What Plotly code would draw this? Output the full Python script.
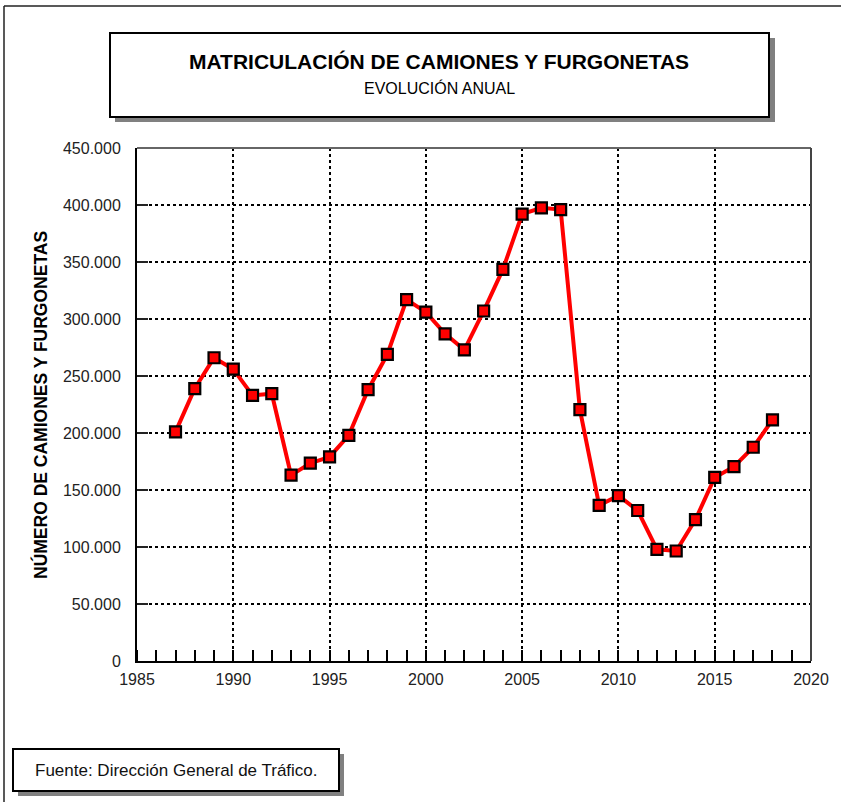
import plotly.graph_objects as go

years = list(range(1987, 2019))
matriculaciones = [201000, 239000, 266000, 256000, 233000, 234500, 163000, 173500,
                   179000, 198000, 238000, 269000, 317000, 306000, 287000, 273000,
                   307000, 343500, 392000, 397500, 396000, 220500, 136500, 145000,
                   132000, 98000, 96500, 124000, 161000, 170500, 187500, 211500]

y_ticks = [0, 50000, 100000, 150000, 200000, 250000, 300000, 350000, 400000, 450000]
x_ticks = [1985, 1990, 1995, 2000, 2005, 2010, 2015, 2020]

title_text = "MATRICULACIÓN DE CAMIONES Y FURGONETAS"
subtitle_text = "EVOLUCIÓN ANUAL"
ytitle_text = "NÚMERO DE CAMIONES Y FURGONETAS"
source_text = "Fuente: Dirección General de Tráfico."

W, H = 841, 802
L, R, T, B = 137, 811, 148, 661
FONT = "Arial, Liberation Sans, sans-serif"

def px(x):
    return (x - L) / (R - L)

def py(y):
    return (B - y) / (B - T)

fig = go.Figure()

fig.add_trace(go.Scatter(
    x=years, y=matriculaciones, mode="lines+markers",
    line=dict(color="#ff0000", width=4),
    marker=dict(symbol="square", size=11, color="#ff0000",
                line=dict(color="#000000", width=2.2)),
    hoverinfo="x+y", showlegend=False, cliponaxis=False,
))

shapes = []
# outer frame (left + top)
shapes.append(dict(type="line", xref="paper", yref="paper", x0=px(4), x1=px(845), y0=py(6), y1=py(6),
                   line=dict(color="#222", width=1.5)))
shapes.append(dict(type="line", xref="paper", yref="paper", x0=px(4), x1=px(4), y0=py(6), y1=py(806),
                   line=dict(color="#222", width=1.5)))
# plot frame top/right
shapes.append(dict(type="line", xref="paper", yref="paper", x0=0, x1=1, y0=1, y1=1,
                   line=dict(color="#666", width=2)))
shapes.append(dict(type="line", xref="paper", yref="paper", x0=1, x1=1, y0=0, y1=1,
                   line=dict(color="#444", width=2)))
# title box shadow + box
shapes.append(dict(type="rect", xref="paper", yref="paper", x0=px(115), x1=px(775), y0=py(38), y1=py(122),
                   fillcolor="#808080", line=dict(width=0), layer="below"))
shapes.append(dict(type="rect", xref="paper", yref="paper", x0=px(110), x1=px(769), y0=py(33), y1=py(117),
                   fillcolor="#ffffff", line=dict(color="#000", width=2), layer="below"))
# footer box shadow + box
shapes.append(dict(type="rect", xref="paper", yref="paper", x0=px(18), x1=px(344), y0=py(754), y1=py(796),
                   fillcolor="#808080", line=dict(width=0), layer="below"))
shapes.append(dict(type="rect", xref="paper", yref="paper", x0=px(13), x1=px(339), y0=py(749), y1=py(791),
                   fillcolor="#ffffff", line=dict(color="#000", width=2), layer="below"))

annotations = [
    dict(text=f"<b>{title_text}</b>", xref="paper", yref="paper", x=px(439), y=py(62),
         showarrow=False, font=dict(family=FONT, size=21, color="#000"), xanchor="center", yanchor="middle"),
    dict(text=subtitle_text, xref="paper", yref="paper", x=px(439), y=py(88),
         showarrow=False, font=dict(family=FONT, size=16, color="#000"), xanchor="center", yanchor="middle"),
    dict(text=f"<b>{ytitle_text}</b>", xref="paper", yref="paper", x=px(40), y=py(405),
         showarrow=False, textangle=-90, font=dict(family=FONT, size=17.5, color="#000"),
         xanchor="center", yanchor="middle"),
    dict(text=source_text, xref="paper", yref="paper", x=px(176), y=py(771),
         showarrow=False, font=dict(family=FONT, size=17, color="#111"), xanchor="center", yanchor="middle"),
]

fig.update_layout(
    width=W, height=H,
    margin=dict(l=L, r=W - R, t=T, b=H - B),
    paper_bgcolor="#ffffff", plot_bgcolor="#ffffff",
    separators=",.",
    shapes=shapes, annotations=annotations,
    font=dict(family=FONT, size=16, color="#222"),
    showlegend=False,
)

fig.update_xaxes(
    range=[1985, 2020], tickvals=x_ticks, ticktext=[str(v) for v in x_ticks],
    showgrid=True, gridcolor="#000", griddash="dot", gridwidth=1.5,
    showline=True, linecolor="#000", linewidth=2, zeroline=False,
    ticks="", ticklabelstandoff=3,
    minor=dict(dtick=1, tick0=1985, ticks="inside", ticklen=11, tickcolor="#000", tickwidth=1.5, showgrid=False),
    tickfont=dict(family=FONT, size=16, color="#222"),
)
fig.update_yaxes(
    range=[0, 450000], tickvals=y_ticks, tickformat=",d",
    showgrid=True, gridcolor="#000", griddash="dot", gridwidth=1.5,
    showline=True, linecolor="#000", linewidth=2, zeroline=False,
    ticks="inside", ticklen=11, tickcolor="#222", tickwidth=2, ticklabelstandoff=11,
    tickfont=dict(family=FONT, size=16, color="#222"),
)

fig.write_html("out.html", config={"displayModeBar": False},
               post_script="document.body.style.margin='0';document.body.style.padding='0';")
